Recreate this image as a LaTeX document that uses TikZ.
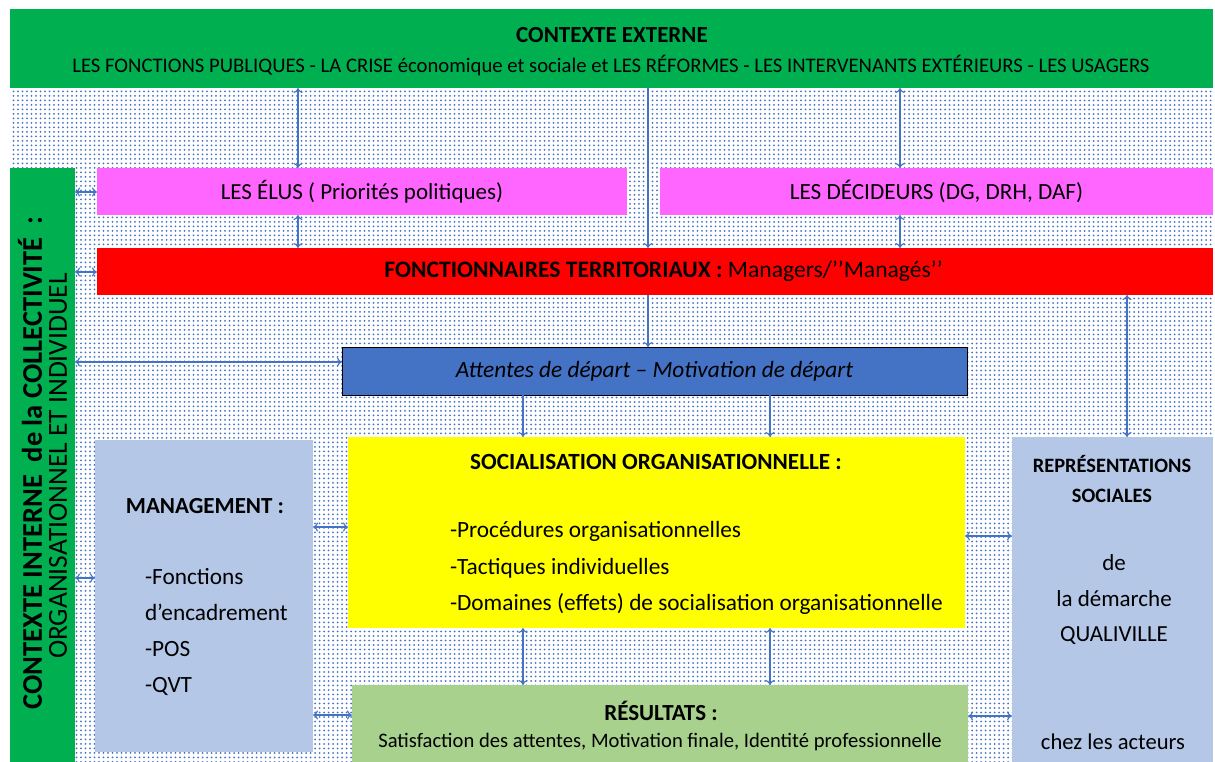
\documentclass[tikz,border=0pt]{standalone}
\usepackage{fontspec}
\setmainfont{Carlito}
\usetikzlibrary{arrows.meta,patterns.meta}
\definecolor{grn}{HTML}{00B050}
\definecolor{pnk}{HTML}{FF66FF}
\definecolor{rd}{HTML}{FF0000}
\definecolor{blu}{HTML}{4472C4}
\definecolor{yel}{HTML}{FFFF00}
\definecolor{lgrn}{HTML}{A9D18E}
\definecolor{lblu}{HTML}{B4C7E7}
\definecolor{arrc}{HTML}{4472C4}
\newcommand\fsz[2]{\fontsize{#1}{#2}\selectfont}
\begin{document}
\begin{tikzpicture}[x=1pt,y=-1pt,
 blk/.style={inner sep=0pt, outer sep=0pt, anchor=north west, draw=none},
 txt/.style={inner sep=0pt, outer sep=0pt, text=black},
 da/.style={draw=arrc, line width=1.1pt, {To[length=5pt,width=9pt]}-{To[length=5pt,width=9pt]}},
 sa/.style={draw=arrc, line width=1.1pt, -{To[length=5pt,width=9pt]}}]
\useasboundingbox (0,0) rectangle (1215,762);
\fill[white] (0,0) rectangle (1215,762);
\fill[pattern={Dots[distance=4.5pt,radius=1pt]}, pattern color=blu] (10,88) rectangle (1213,762);

% external context
\node[blk, fill=grn, minimum width=1203pt, minimum height=79pt] (ext) at (10,9) {};
\node[txt, font=\fsz{23}{28}\bfseries] (extt) at (612,35) {CONTEXTE EXTERNE};
\node[txt, font=\fsz{20.7}{26}] (exts) at (611,66) {LES FONCTIONS PUBLIQUES - LA CRISE économique et sociale et LES RÉFORMES - LES INTERVENANTS EXTÉRIEURS - LES USAGERS};

% internal context (left bar)
\node[blk, fill=grn, minimum width=65pt, minimum height=594pt] (int) at (10,168) {};
\node[txt, rotate=90, font=\fsz{28.5}{32}\bfseries] (intt) at (30,463) {CONTEXTE INTERNE\ \ de la COLLECTIVITÉ\ \ :};
\node[txt, rotate=90, font=\fsz{27.5}{32}] (ints) at (58,466) {ORGANISATIONNEL ET INDIVIDUEL};

% élus / décideurs
\node[blk, fill=pnk, minimum width=530pt, minimum height=47pt, font=\fsz{23}{27}] (elus) at (97,168) {LES ÉLUS ( Priorités politiques)};
\node[blk, fill=pnk, minimum width=553pt, minimum height=47pt, font=\fsz{23.2}{27}] (dec) at (660,168) {LES DÉCIDEURS (DG, DRH, DAF)};

% fonctionnaires
\node[blk, fill=rd, minimum width=1116pt, minimum height=47pt, font=\fsz{23.6}{27}] (red) at (97,248) {\hspace*{17pt}\bfseries FONCTIONNAIRES TERRITORIAUX :\mdseries\ Managers/’’Managés’’};

% attentes
\node[blk, fill=blu, draw=black, line width=1pt, minimum width=625pt, minimum height=48pt, font=\fsz{23.3}{27}\itshape] (att) at (342,347) {Attentes de départ – Motivation de départ};

% socialisation
\node[blk, fill=yel, minimum width=617pt, minimum height=191pt] (soc) at (348,437) {};
\node[txt, font=\fsz{23.2}{27}\bfseries] (soct) at (656,462) {SOCIALISATION ORGANISATIONNELLE :};
\node[txt, font=\fsz{23.3}{36.5}, align=left, anchor=west] (socl) at (450,568) {-Procédures organisationnelles\\-Tactiques individuelles\\-Domaines (effets) de socialisation organisationnelle};

% résultats
\node[blk, fill=lgrn, minimum width=616pt, minimum height=77pt] (res) at (352,685) {};
\node[txt, font=\fsz{23}{28}\bfseries] (rest) at (661,711) {RÉSULTATS :};
\node[txt, font=\fsz{20.6}{24}] (ress) at (660,742) {Satisfaction des attentes, Motivation finale, Identité professionnelle};

% management
\node[blk, fill=lblu, minimum width=218pt, minimum height=312pt] (mgmt) at (95,440) {};
\node[txt, font=\fsz{23}{28}\bfseries] (mgmtt) at (205,506) {MANAGEMENT :};
\node[txt, font=\fsz{23.3}{36}, align=left, anchor=west] (mgmtl) at (145,632) {-Fonctions\\d’encadrement\\-POS\\-QVT};

% représentations
\node[blk, fill=lblu, minimum width=201pt, minimum height=325pt] (rep) at (1012,437) {};
\node[txt, font=\fsz{20.4}{30}\bfseries, align=center] (rept) at (1112,479) {REPRÉSENTATIONS\\SOCIALES};
\node[txt, font=\fsz{23}{35.5}, align=center] (repm) at (1114,600) {de\\la démarche\\QUALIVILLE};
\node[txt, font=\fsz{22.6}{26}] (repb) at (1113,742) {chez les acteurs};

% connector positions
\coordinate (xa) at (298,0);
\coordinate (xb) at (900,0);
\coordinate (xc) at (648,0);
\coordinate (xd) at (523,0);
\coordinate (xe) at (770,0);
\coordinate (xf) at (1127,0);
\coordinate (ya) at (0,192);
\coordinate (yb) at (0,272);
\coordinate (yc) at (0,362);
\coordinate (yd) at (0,578);
\coordinate (ye) at (0,527);
\coordinate (yf) at (0,715);
\coordinate (yg) at (0,536);
\coordinate (yh) at (0,716);

\draw[da] (xa |- ext.south) -- (xa |- elus.north);
\draw[da] (xb |- ext.south) -- (xb |- dec.north);
\draw[sa] (xc |- ext.south) -- (xc |- red.north);
\draw[da] (xa |- elus.south) -- (xa |- red.north);
\draw[da] (xb |- dec.south) -- (xb |- red.north);
\draw[sa] (xc |- red.south) -- (xc |- att.north);
\draw[sa] (xd |- att.south) -- (xd |- soc.north);
\draw[sa] (xe |- att.south) -- (xe |- soc.north);
\draw[da] (xd |- soc.south) -- (xd |- res.north);
\draw[da] (xe |- soc.south) -- (xe |- res.north);
\draw[da] (xf |- red.south) -- (xf |- rep.north);

\draw[da] (int.east |- ya) -- (elus.west |- ya);
\draw[da] (int.east |- yb) -- (red.west |- yb);
\draw[da] (int.east |- yc) -- (att.west |- yc);
\draw[da] (int.east |- yd) -- (mgmt.west |- yd);
\draw[da] (mgmt.east |- ye) -- (soc.west |- ye);
\draw[da] (mgmt.east |- yf) -- (res.west |- yf);
\draw[da] (soc.east |- yg) -- (rep.west |- yg);
\draw[da] (res.east |- yh) -- (rep.west |- yh);
\end{tikzpicture}
\end{document}
